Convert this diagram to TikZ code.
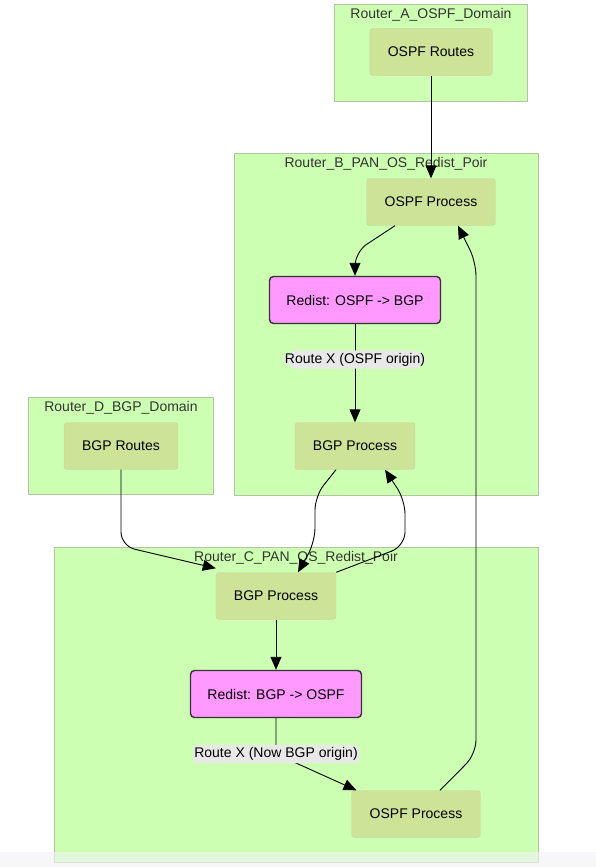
\documentclass[tikz,border=0pt]{standalone}
\usepackage{fontspec}
\setmainfont{Liberation Sans}
\usetikzlibrary{arrows.meta}
\definecolor{clusterbg}{HTML}{CDFFB2}
\definecolor{clusterline}{HTML}{B4C4A0}
\definecolor{procbg}{HTML}{CDE498}
\definecolor{procline}{HTML}{C2D69A}
\definecolor{redistbg}{HTML}{FF99FF}
\definecolor{labelbg}{HTML}{E8E8E8}
\begin{document}
\begin{tikzpicture}[x=1pt, y=-1pt,
        cluster/.style={draw=clusterline, fill=clusterbg, line width=0.8pt},
        ctitle/.style={text=black!80, font=\fontsize{14}{16}\selectfont},
        proc/.style={draw=procline, fill=procbg, rounded corners=3pt, inner xsep=18pt,
            minimum height=47pt, font=\fontsize{14}{16}\selectfont},
        redist/.style={draw=black!80, fill=redistbg, line width=1.4pt, rounded corners=4pt,
            minimum width=171pt, minimum height=47pt, font=\fontsize{14}{16}\selectfont},
        lbl/.style={fill=labelbg, inner xsep=1.5pt, inner ysep=2.5pt, font=\fontsize{14}{16}\selectfont},
        flow/.style={draw=black, line width=0.9pt, rounded corners=14pt,
            -{Triangle[length=13pt,width=11pt]}}]
        \useasboundingbox (0,0) rectangle (596,867);
        \fill[white] (0,0) rectangle (596,867);

        % clusters
        \draw[cluster] (334,4) rectangle (527,101);
        \node[ctitle] (ta) at (431,15) {Router\_A\_OSPF\_Domain};
        \draw[cluster] (234,153) rectangle (538,495);
        \node[ctitle] (tb) at (386,164) {Router\_B\_PAN\_OS\_Redist\_Poir};
        \draw[cluster] (28,397) rectangle (213,494);
        \node[ctitle] (td) at (121,408) {Router\_D\_BGP\_Domain};
        \draw[cluster] (54,547) rectangle (538,862);
        \node[ctitle] (tc) at (296,558) {Router\_C\_PAN\_OS\_Redist\_Poir};

        % nodes
        \node[proc] (aroutes) at (431,52) {OSPF Routes};
        \node[proc] (bospf) at (431,202) {OSPF Process};
        \node[redist] (bredist) at (355,300) {Redist: OSPF -> BGP};
        \node[proc] (bbgp) at (355,446) {BGP Process};
        \node[proc] (droutes) at (121,446) {BGP Routes};
        \node[proc] (cbgp) at (276,596) {BGP Process};
        \node[redist] (credist) at (276,694) {Redist: BGP -> OSPF};
        \node[proc] (cospf) at (416,814) {OSPF Process};

        % connectors
        \draw[flow] (aroutes) -- (bospf);
        \draw[flow] ([xshift=-36pt]bospf.south) -- (355,252) -- (bredist.north);
        \draw[flow] (bredist) -- node[lbl, pos=0.36] {Route X (OSPF origin)} (bbgp);
        \draw[flow] ([xshift=-19pt]bbgp.south) -- (315,496) -- (315,542) -- ([xshift=22pt]cbgp.north);
        \draw[flow] (cbgp.north east) -- (405,546) -- (405,500) -- ([xshift=30pt]bbgp.south);
        \draw[flow] (droutes.south) -- (121,546) -- ([yshift=4pt]cbgp.north west);
        \draw[flow] (cbgp) -- (credist);
        \draw[flow, rounded corners=4pt] (credist.south) -- (276,754) node[lbl] {Route X (Now BGP origin)}
            -- ([xshift=5pt]cospf.north west);
        \draw[flow] ([xshift=24pt]cospf.north) -- (476,754) -- (476,262) -- ([xshift=27pt]bospf.south);

        \fill[color=blue!30!gray!8, opacity=0.6] (0,852) rectangle (596,867);
    \end{tikzpicture}
\end{document}
